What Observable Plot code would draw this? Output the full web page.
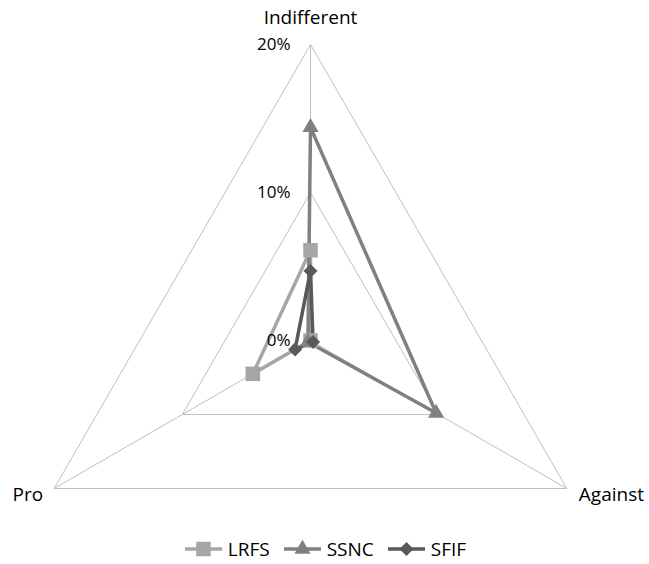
<!DOCTYPE html>
<html><head><meta charset="utf-8">
<script src="https://cdn.jsdelivr.net/npm/d3@7"></script>
<script src="https://cdn.jsdelivr.net/npm/@observablehq/plot@0.6"></script>
<style>
body{margin:0;background:#fff;font-family:"Open Sans",sans-serif;}
#legend{display:flex;justify-content:center;align-items:center;height:38px;padding-left:2px;font-size:19px;color:#000;}
.item{display:flex;align-items:center;margin:0 7px;}
.item svg{margin-right:6px;}
</style></head><body><div id="chart"></div><div id="legend"></div>
<script>
const categories = ["Indifferent", "Against", "Pro"];
const tickValues = [0, 10, 20];
const tickLabels = ["0%", "10%", "20%"];
const seriesNames = ["LRFS", "SSNC", "SFIF"];
const lrfs = [6.1, 0.0, 4.5];
const ssnc = [14.4, 9.8, 0.2];
const sfif = [4.7, 0.2, 1.2];
const seriesColors = ["#a6a6a6", "#808080", "#595959"];

const values = [lrfs, ssnc, sfif];
const n = categories.length;
function pt(v, i) { const a = i * 2 * Math.PI / n; return {x: v * Math.sin(a), y: v * Math.cos(a)}; }
const maxV = d3.max(tickValues);

const gridRows = [];
tickValues.filter(t => t > 0).forEach(t => {
  for (let i = 0; i <= n; i++) { const p = pt(t, i % n); gridRows.push({level: t, x: p.x, y: p.y}); }
});
const spokes = categories.map((c, i) => { const p = pt(maxV, i); return {x1: 0, y1: 0, x2: p.x, y2: p.y}; });
const seriesRows = [];
const dotRows = [];
seriesNames.forEach((s, k) => {
  for (let i = 0; i <= n; i++) { const p = pt(values[k][i % n], i % n); seriesRows.push({series: s, x: p.x, y: p.y}); }
  for (let i = 0; i < n; i++) { const p = pt(values[k][i], i); dotRows.push({series: s, x: p.x, y: p.y}); }
});
const labelRows = categories.map((c, i) => ({text: c, ...pt(maxV, i), i}));
const tickRows = tickValues.map((t, j) => ({text: tickLabels[j], x: 0, y: t}));

const cx = 310, cy = 340, R = 296;
const font = "'Open Sans', sans-serif";
const chart = Plot.plot({
  width: 649, height: 530, margin: 0,
  x: {domain: [-maxV, maxV], range: [cx - R, cx + R], axis: null},
  y: {domain: [-maxV, maxV], range: [cy + R, cy - R], axis: null},
  color: {domain: seriesNames, range: seriesColors},
  style: {fontFamily: font, background: "#fff"},
  marks: [
    Plot.line(gridRows, {x: "x", y: "y", z: "level", stroke: "#c0c0c0", strokeWidth: 1}),
    Plot.link(spokes, {x1: "x1", y1: "y1", x2: "x2", y2: "y2", stroke: "#c0c0c0", strokeWidth: 1}),
    Plot.line(seriesRows, {x: "x", y: "y", z: "series", stroke: "series", strokeWidth: 3.5, strokeLinejoin: "miter"}),
    Plot.dot(dotRows.filter(d => d.series === "LRFS"), {x: "x", y: "y", symbol: "square", r: 8.2, fill: "series", stroke: "none"}),
    Plot.dot(dotRows.filter(d => d.series === "SSNC"), {x: "x", y: "y", symbol: "triangle", r: 6, fill: "series", stroke: "none"}),
    Plot.dot(dotRows.filter(d => d.series === "SFIF"), {x: "x", y: "y", symbol: "square", rotate: 45, r: 5.6, fill: "series", stroke: "none"}),
    Plot.text(labelRows.filter(d => d.i === 0), {x: "x", y: "y", text: "text", dy: -27, fontSize: 19, fill: "#000"}),
    Plot.text(labelRows.filter(d => d.i === 1), {x: "x", y: "y", text: "text", dx: 12, dy: 6, textAnchor: "start", fontSize: 19, fill: "#000"}),
    Plot.text(labelRows.filter(d => d.i === 2), {x: "x", y: "y", text: "text", dx: -11, dy: 6, textAnchor: "end", fontSize: 19, fill: "#000"}),
    Plot.text(tickRows, {x: "x", y: "y", text: "text", dx: -20, textAnchor: "end", fontSize: 17, fill: "#000"})
  ]
});
document.getElementById("chart").appendChild(chart);

const legend = document.getElementById("legend");
const symbolPaths = [
  d3.symbol(d3.symbolSquare, Math.PI * 8.2 * 8.2)(),
  d3.symbol(d3.symbolTriangle, Math.PI * 6 * 6)(),
  d3.symbol(d3.symbolSquare, Math.PI * 5.6 * 5.6)()
];
seriesNames.forEach((s, k) => {
  const item = document.createElement("div");
  item.className = "item";
  item.innerHTML = `<svg width="37" height="18"><line x1="0" x2="37" y1="9" y2="9" stroke="${seriesColors[k]}" stroke-width="3.5"/><path d="${symbolPaths[k]}" transform="translate(18.5,9)${k === 2 ? " rotate(45)" : ""}" fill="${seriesColors[k]}"/></svg><span>${s}</span>`;
  legend.appendChild(item);
});
</script></body></html>
